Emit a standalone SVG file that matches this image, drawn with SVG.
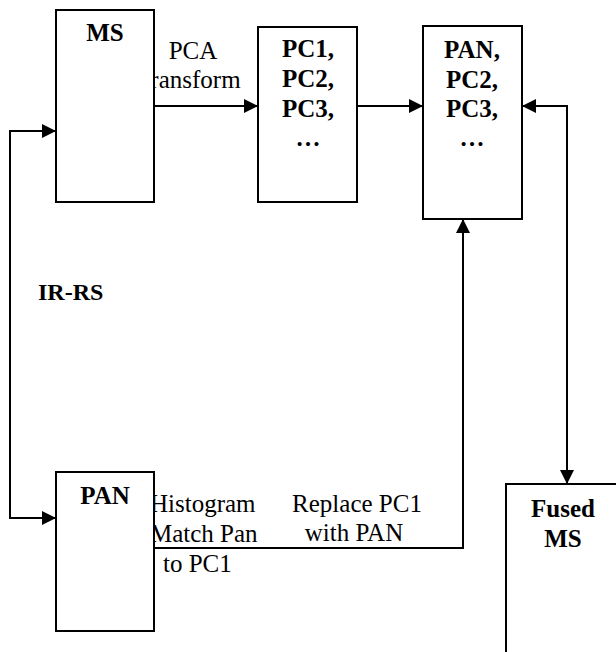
<svg xmlns="http://www.w3.org/2000/svg" width="616" height="652" viewBox="0 0 616 652">
<style>
.box{fill:#fff;stroke:#000;stroke-width:2}
.b{font-family:'Liberation Serif','DejaVu Serif',serif;font-weight:bold;font-size:25px;text-anchor:middle;fill:#000}
.r{font-family:'Liberation Serif','DejaVu Serif',serif;font-size:25px;fill:#000}
.c{fill:none;stroke:#000;stroke-width:2}
</style>
<defs>
<marker id="ah" markerUnits="userSpaceOnUse" markerWidth="14" markerHeight="14" refX="14" refY="7" orient="auto-start-reverse">
<path d="M0,0 L14,7 L0,14 z" fill="#000"/>
</marker>
</defs>
<rect width="616" height="652" fill="#fff"/>
<g id="labels">
<text class="r" x="193" y="59" text-anchor="middle">PCA</text>
<text class="r" x="192" y="88" text-anchor="middle">transform</text>
<text class="r" x="150" y="512">Histogram</text>
<text class="r" x="150" y="542">Match Pan</text>
<text class="r" x="163" y="572">to PC1</text>
<text class="r" x="357" y="512" text-anchor="middle">Replace PC1</text>
<text class="r" x="354" y="541" text-anchor="middle">with PAN</text>
<text class="b" x="38" y="300" style="text-anchor:start;font-size:24px">IR-RS</text>
</g>
<g id="connectors">
<line class="c" x1="154" y1="106" x2="258" y2="106" marker-end="url(#ah)"/>
<line class="c" x1="357" y1="106" x2="423" y2="106" marker-end="url(#ah)"/>
<polyline class="c" points="56,131 10,131 10,518 56,518" marker-start="url(#ah)" marker-end="url(#ah)"/>
<polyline class="c" points="154,548 463,548 463,219" marker-end="url(#ah)"/>
<polyline class="c" points="522,106 567,106 567,484" marker-start="url(#ah)" marker-end="url(#ah)"/>
</g>
<g id="ms">
<rect class="box" x="56" y="10" width="98" height="192"/>
<text class="b" x="105" y="41">MS</text>
</g>
<g id="pc">
<rect class="box" x="258" y="27" width="99" height="175"/>
<text class="b" x="308" y="57">PC1,</text>
<text class="b" x="308" y="87">PC2,</text>
<text class="b" x="308" y="117">PC3,</text>
<text class="b" x="308" y="146">…</text>
</g>
<g id="panpc">
<rect class="box" x="423" y="26" width="99" height="193"/>
<text class="b" x="472" y="58">PAN,</text>
<text class="b" x="472" y="88">PC2,</text>
<text class="b" x="472" y="117">PC3,</text>
<text class="b" x="472" y="146">…</text>
</g>
<g id="pan">
<rect class="box" x="56" y="472" width="98" height="159"/>
<text class="b" x="105" y="504">PAN</text>
</g>
<g id="fused">
<rect class="box" x="506" y="484" width="122" height="200"/>
<text class="b" x="563" y="517">Fused</text>
<text class="b" x="563" y="547">MS</text>
</g>
</svg>
